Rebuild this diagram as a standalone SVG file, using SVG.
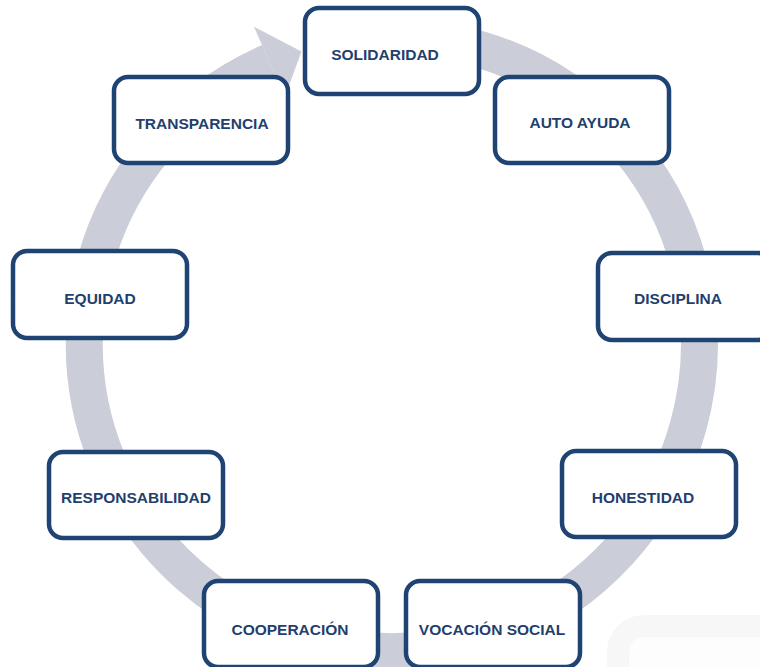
<svg xmlns="http://www.w3.org/2000/svg" width="760" height="667" viewBox="0 0 760 667">
<style>
.box{fill:#ffffff;stroke:#1F4373;stroke-width:4.5}
.lbl{font-family:"Liberation Sans",Arial,sans-serif;font-weight:bold;font-size:15.5px;fill:#1F3F6E;text-anchor:middle}
.ring{fill:none;stroke:#CBCED8;stroke-width:37}
</style>
<rect x="0" y="0" width="760" height="667" fill="#ffffff"/>
<g id="watermark">
<rect x="618" y="626" width="200" height="100" rx="26" fill="#FDFDFD" stroke="#F7F7F8" stroke-width="22"/>
</g>
<g id="connectors">
<path class="ring" d="M338.6,41.2 A307.5,307.5 0 1 1 269.4,62.0"/>
<polygon points="254.0,26.7 301.5,51.5 284.7,97.3" fill="#CBCED8"/>
</g>
<g id="n-solidaridad">
<rect class="box" x="305" y="8" width="174" height="86" rx="14"/>
<text class="lbl" x="385" y="60">SOLIDARIDAD</text>
</g>
<g id="n-autoayuda">
<rect class="box" x="495" y="77" width="174" height="86" rx="14"/>
<text class="lbl" x="580" y="128">AUTO AYUDA</text>
</g>
<g id="n-transparencia">
<rect class="box" x="114" y="77" width="174" height="86" rx="14"/>
<text class="lbl" x="202" y="129">TRANSPARENCIA</text>
</g>
<g id="n-equidad">
<rect class="box" x="13" y="251" width="174" height="87" rx="14"/>
<text class="lbl" x="100" y="304">EQUIDAD</text>
</g>
<g id="n-disciplina">
<rect class="box" x="598" y="253" width="174" height="87" rx="14"/>
<text class="lbl" x="678" y="304">DISCIPLINA</text>
</g>
<g id="n-responsabilidad">
<rect class="box" x="49" y="452" width="174" height="86" rx="14"/>
<text class="lbl" x="136" y="503">RESPONSABILIDAD</text>
</g>
<g id="n-honestidad">
<rect class="box" x="562" y="451" width="174" height="86" rx="14"/>
<text class="lbl" x="643" y="503">HONESTIDAD</text>
</g>
<g id="n-cooperacion">
<rect class="box" x="204" y="581" width="174" height="86" rx="14"/>
<text class="lbl" x="290" y="635">COOPERACIÓN</text>
</g>
<g id="n-vocacion">
<rect class="box" x="406" y="581" width="174" height="86" rx="14"/>
<text class="lbl" x="492" y="635">VOCACIÓN SOCIAL</text>
</g>
</svg>
